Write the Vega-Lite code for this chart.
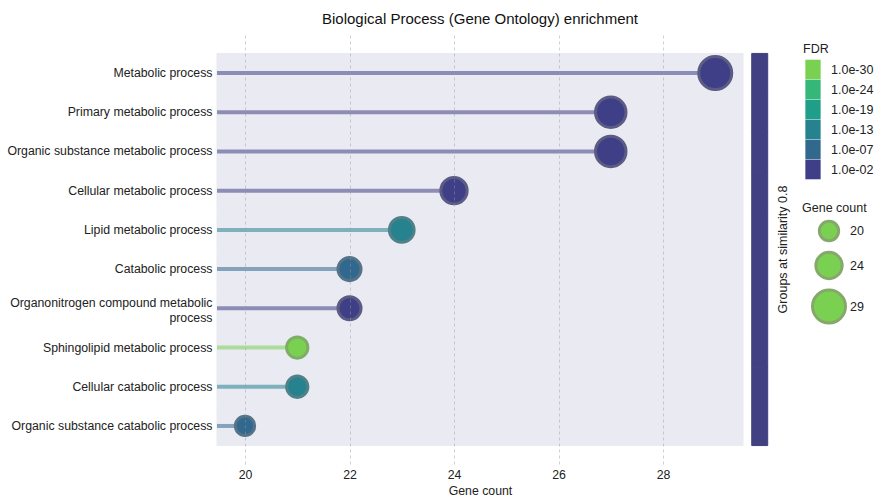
{
  "$schema": "https://vega.github.io/schema/vega-lite/v6.json",
  "width": 526,
  "height": 429,
  "autosize": {"type": "none"},
  "padding": {"left": 217, "top": 35, "right": 132, "bottom": 33},
  "background": "white",
  "title": {
    "text": "Biological Process (Gene Ontology) enrichment",
    "fontSize": 15,
    "fontWeight": "normal",
    "font": "Liberation Sans",
    "color": "#111111",
    "anchor": "middle",
    "offset": 8
  },
  "config": {
    "view": {"stroke": null},
    "font": "Liberation Sans"
  },
  "resolve": {"scale": {"stroke": "independent"}, "legend": {"stroke": "independent"}},
  "data": {
    "values": [
      {"term": "Metabolic process", "count": 29, "fdr": "1.0e-02"},
      {"term": "Primary metabolic process", "count": 27, "fdr": "1.0e-02"},
      {"term": "Organic substance metabolic process", "count": 27, "fdr": "1.0e-02"},
      {"term": "Cellular metabolic process", "count": 24, "fdr": "1.0e-02"},
      {"term": "Lipid metabolic process", "count": 23, "fdr": "1.0e-13"},
      {"term": "Catabolic process", "count": 22, "fdr": "1.0e-07"},
      {"term": "Organonitrogen compound metabolic process", "count": 22, "fdr": "1.0e-02"},
      {"term": "Sphingolipid metabolic process", "count": 21, "fdr": "1.0e-30"},
      {"term": "Cellular catabolic process", "count": 21, "fdr": "1.0e-13"},
      {"term": "Organic substance catabolic process", "count": 20, "fdr": "1.0e-07"}
    ]
  },
  "encoding": {
    "y": {
      "field": "term",
      "type": "nominal",
      "sort": null,
      "scale": {"type": "band", "paddingInner": 0, "paddingOuter": 0.47},
      "axis": {
        "title": null,
        "domain": false,
        "ticks": false,
        "grid": false,
        "labelPadding": 5,
        "labelFontSize": 12.3,
        "labelColor": "#222222",
        "labelLimit": 260,
        "labelLineHeight": 15,
        "labelOffset": {
          "condition": {"test": "datum.value == 'Organonitrogen compound metabolic process'", "value": -5},
          "value": 0
        },
        "labelExpr": "datum.label == 'Organonitrogen compound metabolic process' ? ['Organonitrogen compound metabolic', 'process'] : datum.label"
      }
    }
  },
  "layer": [
    {
      "mark": {"type": "rect", "fill": "#eaeaf2", "stroke": "#eaeaf2", "strokeWidth": 1},
      "encoding": {
        "x": {"datum": 19.464, "type": "quantitative"},
        "x2": {"datum": 29.531}
      }
    },
    {
      "mark": {"type": "rect", "fill": "#414083", "stroke": "#414083", "strokeWidth": 1},
      "encoding": {
        "x": {"datum": 29.698, "type": "quantitative"},
        "x2": {"datum": 30.004}
      }
    },
    {
      "mark": {"type": "rule", "strokeWidth": 4},
      "encoding": {
        "x": {"field": "count", "type": "quantitative"},
        "x2": {"datum": 19.464},
        "stroke": {
          "field": "fdr",
          "type": "ordinal",
          "legend": null,
          "scale": {
            "domain": ["1.0e-02", "1.0e-07", "1.0e-13", "1.0e-19", "1.0e-24", "1.0e-30"],
            "range": ["#8c8cb7", "#84a2bb", "#7eb1bb", "#7ac0b8", "#86ceaf", "#acdc99"]
          }
        }
      }
    },
    {
      "mark": {
        "type": "point",
        "shape": "circle",
        "filled": true,
        "opacity": 1,
        "strokeWidth": 3
      },
      "encoding": {
        "x": {
          "field": "count",
          "type": "quantitative",
          "scale": {"domain": [19.464, 29.531], "nice": false, "zero": false},
          "axis": {
            "values": [20, 22, 24, 26, 28],
            "title": "Gene count",
            "grid": true,
            "gridDash": [3, 3],
            "gridColor": "#999999",
            "gridOpacity": 0.45,
            "domain": false,
            "ticks": false,
            "labelPadding": 4,
            "labelFontSize": 12.3,
            "labelColor": "#222222",
            "titleFontSize": 12.3,
            "titleFontWeight": "normal",
            "titleColor": "#222222",
            "titlePadding": 4,
            "zindex": 1
          }
        },
        "size": {
          "field": "count",
          "type": "quantitative",
          "scale": {"type": "linear", "domain": [20, 29], "range": [372, 1089], "zero": false},
          "legend": {
            "title": "Gene count",
            "values": [20, 24, 29],
            "orient": "none",
            "legendX": 585,
            "legendY": 167,
            "titleFontSize": 12.5,
            "titleFontWeight": "normal",
            "titleColor": "#222222",
            "labelFontSize": 12.5,
            "labelColor": "#222222",
            "symbolFillColor": "#7ad151",
            "symbolStrokeColor": "#86a96b",
            "symbolStrokeWidth": 3,
            "symbolOpacity": 1,
            "symbolOffset": 9,
            "rowPadding": -2,
            "labelOffset": 3
          }
        },
        "color": {
          "field": "fdr",
          "type": "ordinal",
          "scale": {
            "domain": ["1.0e-30", "1.0e-24", "1.0e-19", "1.0e-13", "1.0e-07", "1.0e-02"],
            "range": ["#7ad151", "#35b779", "#1f9e89", "#26828e", "#31688e", "#3f3f87"]
          },
          "legend": {
            "title": "FDR",
            "orient": "none",
            "legendX": 586,
            "legendY": 8,
            "titleFontSize": 12.5,
            "titleFontWeight": "normal",
            "titleColor": "#222222",
            "titlePadding": 4,
            "labelFontSize": 12.5,
            "labelColor": "#222222",
            "symbolType": "M-0.78,-1H0.78V1H-0.78Z",
            "symbolSize": 384,
            "symbolStrokeWidth": 0,
            "symbolOpacity": 1,
            "rowPadding": 0,
            "labelOffset": 8
          }
        },
        "stroke": {
          "field": "fdr",
          "type": "ordinal",
          "legend": null,
          "scale": {
            "domain": ["1.0e-02", "1.0e-30", "1.0e-07", "1.0e-24", "1.0e-13", "1.0e-19"],
            "range": ["#5b5b84", "#7dad66", "#557388", "#579e7c", "#4f8188", "#4b9085"]
          }
        }
      }
    },
    {
      "transform": [{"filter": "datum.term == 'Lipid metabolic process'"}],
      "mark": {"type": "text", "angle": 270, "align": "center", "baseline": "middle", "fontSize": 12.5, "color": "#222222"},
      "encoding": {
        "x": {"datum": 30.297, "type": "quantitative"},
        "y": {"field": "term", "type": "nominal", "sort": null, "bandPosition": 1},
        "text": {"value": "Groups at similarity 0.8"}
      }
    }
  ]
}
